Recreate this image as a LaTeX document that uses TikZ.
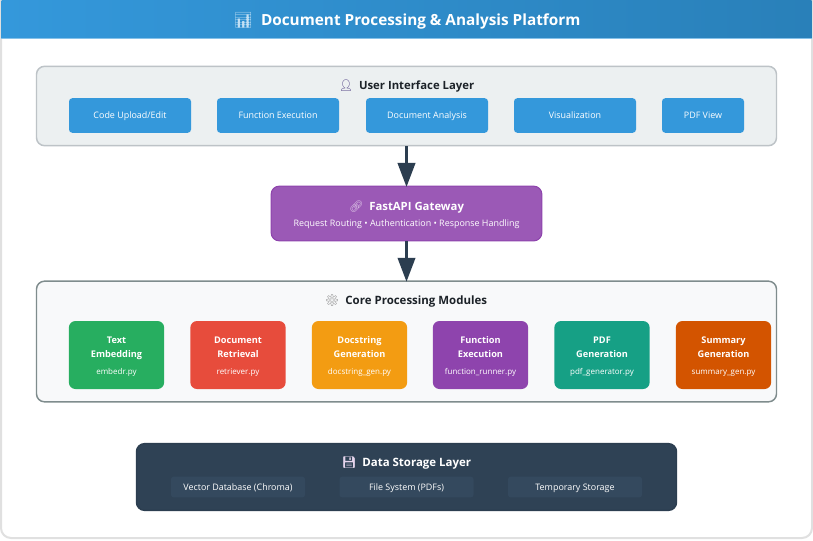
\documentclass[tikz,border=0pt]{standalone}
\usepackage{fontspec}
\setmainfont{Open Sans}
\newfontfamily\emojifont{Noto Emoji}
\usetikzlibrary{arrows.meta}
\definecolor{cardedge}{HTML}{E0E0E0}
\definecolor{headleft}{HTML}{3498DB}
\definecolor{headright}{HTML}{2980B9}
\definecolor{headline}{HTML}{85C1E9}
\definecolor{darktext}{HTML}{2C3E50}
\definecolor{inktext}{HTML}{1C2228}
\definecolor{uifill}{HTML}{ECF0F1}
\definecolor{uiedge}{HTML}{BDC3C7}
\definecolor{uiicon}{HTML}{4A3A80}
\definecolor{gatefill}{HTML}{9B59B6}
\definecolor{gateedge}{HTML}{8E44AD}
\definecolor{corefill}{HTML}{F8F9FA}
\definecolor{coreedge}{HTML}{7F8C8D}
\definecolor{storefill}{HTML}{2F4255}
\definecolor{storecell}{HTML}{34495E}
\definecolor{modgreen}{HTML}{27AE60}
\definecolor{modred}{HTML}{E74C3C}
\definecolor{modorange}{HTML}{F39C12}
\definecolor{modpurple}{HTML}{8E44AD}
\definecolor{modteal}{HTML}{16A085}
\definecolor{modbrown}{HTML}{D35400}
\tikzset{
  layerbox/.style={draw,line width=1.1pt,rounded corners=6pt,inner sep=0pt,minimum width=#1},
  uibtn/.style={fill=headleft,draw=none,rounded corners=2.5pt,inner sep=0pt,minimum height=26pt,minimum width=#1,text height=6pt,text depth=1pt,text=white,font=\fontsize{6.7}{8}\selectfont},
  modbox/.style={fill=#1,draw=none,rounded corners=5pt,inner sep=0pt,minimum width=71.5pt,minimum height=51pt,text height=30.3pt,text depth=1.5pt,text=white,align=center,font=\fontsize{6.9}{10.9}\selectfont\bfseries},
  storebtn/.style={fill=storecell,draw=none,rounded corners=2pt,inner sep=0pt,minimum width=100.5pt,minimum height=15.5pt,text height=6pt,text depth=1pt,text=white,font=\fontsize{6.7}{8}\selectfont},
  headlabel/.style={font=\fontsize{#1}{#1}\selectfont\bfseries,inner sep=0pt,text height=9.5pt,text depth=2pt},
  flowarrow/.style={draw=darktext,line width=2.2pt,-{Triangle[length=18pt,width=13pt]},shorten >=-1pt},
}
\newcommand{\modfile}[1]{{\fontsize{6}{9}\selectfont\mdseries #1}}
\begin{document}
\begin{tikzpicture}[x=0.75pt,y=0.75pt,yscale=-1,xscale=1]
        \useasboundingbox (0,0) rectangle (813,540);
        \fill [white] (0,0) rectangle (813,540);
        \draw [cardedge,fill=white,line width=1.5pt,rounded corners=7.5pt] (1,-12) rectangle (812,538);
        \draw (406.5,19) node (header) [left color=headleft,right color=headright,minimum width=607.5pt,minimum height=28.5pt,inner sep=0pt] {};
        \draw [headline,line width=1pt] (header.south west) -- (header.south east);
        \draw (407,20) node (title) [headlabel=11.5,text=white] {{\emojifont\textcolor{white!70!headleft}{📊}}\ \ Document Processing \& Analysis Platform};

        \draw (406.5,106) node (uilayer) [layerbox=555pt,minimum height=59.5pt,fill=uifill,draw=uiedge] {};
        \draw (406.5,84.5) node (uititle) [headlabel=8.5,text=inktext] {{\emojifont\textcolor{uiicon}{👤}}\ \ User Interface Layer};
        \draw (130,115.5) node (upload) [uibtn=91.5pt] {Code Upload/Edit};
        \draw (278,115.5) node (execute) [uibtn=91.5pt] {Function Execution};
        \draw (427,115.5) node (analysis) [uibtn=91.5pt] {Document Analysis};
        \draw (575,115.5) node (visual) [uibtn=91.5pt] {Visualization};
        \draw (703,115.5) node (pdfview) [uibtn=61.5pt] {PDF View};

        \draw (406.5,213.5) node (gateway) [fill=gatefill,draw=gateedge,line width=0.8pt,rounded corners=6pt,inner sep=0pt,minimum width=203pt,minimum height=41pt] {};
        \draw (406.5,205.5) node (gatetitle) [headlabel=8.5,text=white] {{\emojifont\textcolor{white!70!gatefill}{🔗}}\ \ FastAPI Gateway};
        \draw (406.5,223) node (gatesub) [inner sep=0pt,text height=6pt,text depth=1pt,text=white,font=\fontsize{6.7}{8}\selectfont] {Request Routing • Authentication • Response Handling};

        \draw (406.5,341.5) node (core) [layerbox=555pt,minimum height=90.5pt,fill=corefill,draw=coreedge] {};
        \draw (406,299.5) node (coretitle) [headlabel=8.6,text=inktext] {{\emojifont\textcolor{black!45}{⚙}}\ \ Core Processing Modules};
        \draw (116.5,355) node (embed) [modbox=modgreen] {Text\\Embedding\\[1.5pt]\modfile{embedr.py}};
        \draw (238,355) node (retrieve) [modbox=modred] {Document\\Retrieval\\[1.5pt]\modfile{retriever.py}};
        \draw (359.5,355) node (docstring) [modbox=modorange] {Docstring\\Generation\\[1.5pt]\modfile{docstring\_gen.py}};
        \draw (480.5,355) node (runner) [modbox=modpurple] {Function\\Execution\\[1.5pt]\modfile{function\_runner.py}};
        \draw (602,355) node (pdfgen) [modbox=modteal] {PDF\\Generation\\[1.5pt]\modfile{pdf\_generator.py}};
        \draw (723.5,355) node (summary) [modbox=modbrown] {Summary\\Generation\\[1.5pt]\modfile{summary\_gen.py}};

        \draw (406.5,477) node (storage) [fill=storefill,draw=darktext,line width=1.1pt,rounded corners=6pt,inner sep=0pt,minimum width=405pt,minimum height=50pt] {};
        \draw (406.5,461.5) node (storetitle) [headlabel=8.6,text=white] {{\emojifont\textcolor{white!75!gatefill}{💾}}\ \ Data Storage Layer};
        \draw (238,487) node (vectordb) [storebtn] {Vector Database (Chroma)};
        \draw (406.5,487) node (filesys) [storebtn] {File System (PDFs)};
        \draw (575,487) node (tempstore) [storebtn] {Temporary Storage};

        \draw [flowarrow] (uilayer.south) -- (gateway.north);
        \draw [flowarrow] (gateway.south) -- (core.north);
\end{tikzpicture}
\end{document}
